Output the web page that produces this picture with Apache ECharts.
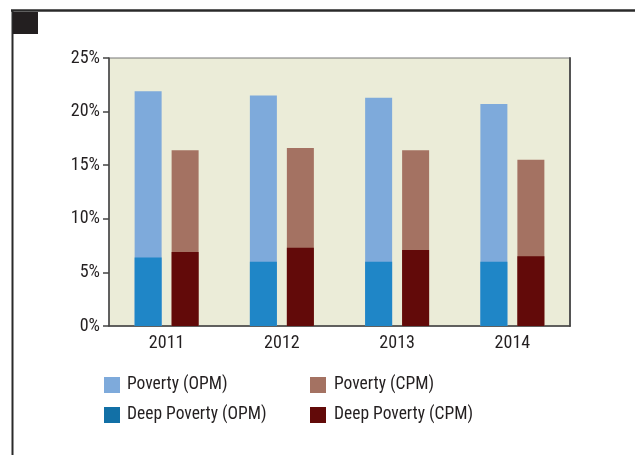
<!DOCTYPE html>
<html>
<head>
<meta charset="utf-8">
<script src="https://cdn.jsdelivr.net/npm/echarts@6/dist/echarts.min.js"></script>
<style>html,body{margin:0;padding:0;background:#fff}#c{width:635px;height:455px}</style>
</head>
<body>
<div id="c"></div>
<script>
var years = ['2011', '2012', '2013', '2014'];
var povertyOPM = [21.9, 21.5, 21.3, 20.7];
var povertyCPM = [16.4, 16.6, 16.4, 15.5];
var deepOPM = [6.4, 6.0, 6.0, 6.0];
var deepCPM = [6.9, 7.3, 7.1, 6.5];
var yTicks = [0, 5, 10, 15, 20, 25];

var FONT = 'Roboto, sans-serif';
var FW = 'condensed';
var TXT = '#231f20';
var chart = echarts.init(document.getElementById('c'), null, {renderer: 'canvas'});
var barCommon = {barWidth: 27, barGap: '37%'};
var lbl = {color: TXT, fontSize: 18, fontFamily: FONT, fontWeight: FW};
chart.setOption({
  animation: false,
  textStyle: {fontFamily: FONT},
  grid: {left: 109, right: 65, top: 58, bottom: 129, show: true,
    backgroundColor: '#ebecd8', borderColor: '#777', borderWidth: 1},
  xAxis: [
    {type: 'category', data: years, axisTick: {show: false},
     axisLine: {lineStyle: {color: '#444', width: 1.5}},
     axisLabel: Object.assign({margin: 8}, lbl)},
    {type: 'category', data: years, show: false, position: 'bottom'}
  ],
  yAxis: [
    {type: 'value', min: yTicks[0], max: yTicks[yTicks.length - 1], interval: 5,
     splitLine: {show: false},
     axisLine: {show: true, lineStyle: {color: '#444', width: 1.5}},
     axisTick: {show: true, length: 6, lineStyle: {color: '#444', width: 1.5}},
     axisLabel: Object.assign({margin: 9, formatter: '{value}%'}, lbl)},
    {type: 'value', min: 0, max: 25, position: 'right', splitLine: {show: false},
     axisLine: {show: true, lineStyle: {color: '#555', width: 2}},
     axisTick: {show: false}, axisLabel: {show: false}}
  ],
  legend: [
    {orient: 'vertical', left: 104, top: 376, padding: 0, itemWidth: 16, itemHeight: 16, itemGap: 12,
     icon: 'rect', selectedMode: false,
     textStyle: Object.assign({padding: [0, 0, 0, 2]}, lbl, {fontSize: 17.5}),
     data: [{name: 'Poverty (OPM)', itemStyle: {color: '#7eaadb'}},
            {name: 'Deep Poverty (OPM)', itemStyle: {color: '#1270a6'}}]},
    {orient: 'vertical', left: 310, top: 376, padding: 0, itemWidth: 16, itemHeight: 16, itemGap: 12,
     icon: 'rect', selectedMode: false,
     textStyle: Object.assign({padding: [2, 0, 0, 3]}, lbl, {fontSize: 17.5}),
     data: [{name: 'Poverty (CPM)', itemStyle: {color: '#a47262'}},
            {name: 'Deep Poverty (CPM)', itemStyle: {color: '#620a09'}}]}
  ],
  series: [
    Object.assign({name: 'Poverty (OPM)', type: 'bar', xAxisIndex: 0, data: povertyOPM,
      itemStyle: {color: '#7eaadb'}, z: 2}, barCommon),
    Object.assign({name: 'Poverty (CPM)', type: 'bar', xAxisIndex: 0, data: povertyCPM,
      itemStyle: {color: '#a47262'}, z: 2}, barCommon),
    Object.assign({name: 'Deep Poverty (OPM)', type: 'bar', xAxisIndex: 1, data: deepOPM,
      itemStyle: {color: '#1f86c7'}, z: 3}, barCommon),
    Object.assign({name: 'Deep Poverty (CPM)', type: 'bar', xAxisIndex: 1, data: deepCPM,
      itemStyle: {color: '#620a09'}, z: 3}, barCommon)
  ],
  graphic: [
    {type: 'line', shape: {x1: 11, y1: 10.5, x2: 635, y2: 10.5}, style: {stroke: '#2a2a2a', lineWidth: 2.5}, z: 100},
    {type: 'line', shape: {x1: 12.5, y1: 10, x2: 12.5, y2: 455}, style: {stroke: '#2a2a2a', lineWidth: 2}, z: 100},
    {type: 'rect', shape: {x: 13, y: 12, width: 25, height: 22}, style: {fill: '#231f20'}, z: 100}
  ]
});
</script>
</body>
</html>
